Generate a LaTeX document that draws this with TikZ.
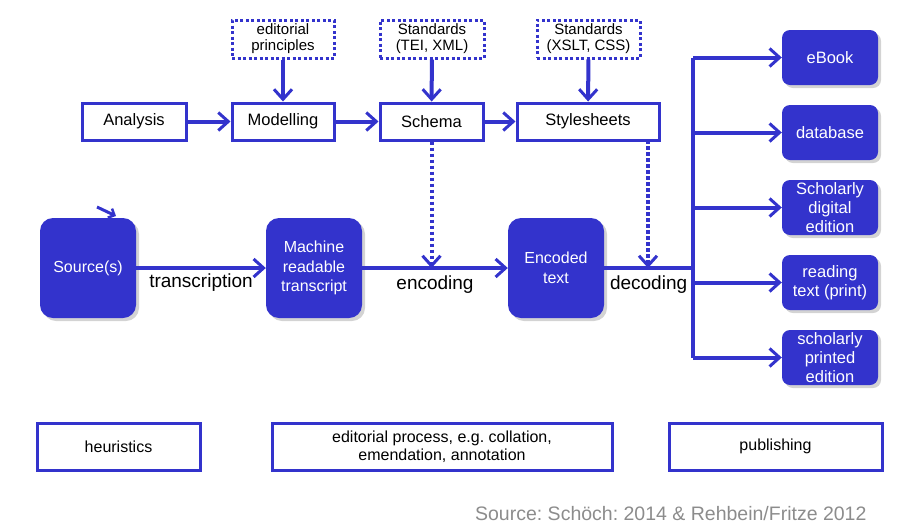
\documentclass[tikz,border=0pt]{standalone}
\usepackage{fontspec}
\setmainfont{Liberation Sans}
\usetikzlibrary{arrows.meta,shadows}
\definecolor{edblue}{RGB}{51,51,204}
\definecolor{notegray}{RGB}{140,140,140}
\frenchspacing
\tikzset{
  stepbox/.style={draw=edblue,line width=3pt,fill=white,inner sep=0pt,minimum height=37pt,font=\fontsize{16.5}{18}\selectfont},
  normbox/.style={draw=edblue,line width=3pt,dash pattern=on 3pt off 2.5pt,fill=white,inner sep=0pt,minimum height=38pt,align=center,font=\fontsize{15}{16}\selectfont},
  workbox/.style={fill=edblue,text=white,rounded corners=13pt,inner sep=0pt,minimum width=96pt,minimum height=100pt,align=center,font=\fontsize{16}{19.5}\selectfont,drop shadow={shadow xshift=3pt,shadow yshift=-3pt,fill=gray,opacity=0.35}},
  outbox/.style={fill=edblue,text=white,rounded corners=8pt,inner sep=0pt,minimum width=96pt,minimum height=55pt,align=center,font=\fontsize{16.5}{19}\selectfont,drop shadow={shadow xshift=3pt,shadow yshift=-3pt,fill=gray,opacity=0.35}},
  phasebox/.style={draw=edblue,line width=3pt,inner sep=0pt,minimum height=47pt,align=center,font=\fontsize{16}{18}\selectfont},
  flow/.style={edblue,line width=4pt,-{Straight Barb[length=10pt,width=18pt,line width=3pt]}},
  hint/.style={edblue,line width=4pt,dash pattern=on 3.5pt off 2.5pt,-{Straight Barb[length=10pt,width=18pt,line width=3pt,sep=0pt]}},
  wire/.style={edblue,line width=4pt},
  steplabel/.style={text=black,font=\fontsize{19}{21}\selectfont,inner sep=1pt}
}
\begin{document}
\begin{tikzpicture}[x=1pt,y=-1pt]
\useasboundingbox (0,0) rectangle (900,531);
\node[stepbox,minimum width=104pt] (ana) at (134,121.5) {Analysis};
\node[stepbox,minimum width=102pt] (mod) at (283,121.5) {Modelling};
\node[stepbox,minimum width=103pt] (sch) at (431.5,121.5) {Schema};
\node[stepbox,minimum width=142pt] (sty) at (588,121.5) {Stylesheets};
\node[normbox,minimum width=102pt] (prin) at (283,39) {editorial\\principles};
\node[normbox,minimum width=104pt] (tei) at (432,39) {Standards\\(TEI, XML)};
\node[normbox,minimum width=103pt] (xslt) at (588.5,39) {Standards\\(XSLT, CSS)};
\node[workbox] (src) at (88,268) {Source(s)};
\node[workbox] (mrt) at (314,268) {Machine\\readable\\transcript};
\node[workbox] (enc) at (556,268) {Encoded\\text};
\node[outbox] (ebook) at (830,57.5) {eBook};
\node[outbox] (db) at (830,132.5) {database};
\node[outbox] (sde) at (830,207.5) {Scholarly\\digital\\edition};
\node[outbox] (read) at (830,282.5) {reading\\text (print)};
\node[outbox] (spe) at (830,357.5) {scholarly\\printed\\edition};
\node[phasebox,minimum width=163pt] (heu) at (118.5,446.5) {heuristics};
\node[phasebox,minimum width=340pt] (proc) at (442,446.5) {editorial process, e.g. collation,\\emendation, annotation};
\node[phasebox,minimum width=213pt] (pub) at (775.5,446.5) {publishing};
\node[anchor=east,text=notegray,font=\fontsize{19.5}{21}\selectfont] (cite) at (870,514) {Source: Schöch: 2014 \& Rehbein/Fritze 2012};
\coordinate (br) at (693,268);
\coordinate (tap) at (648,140);
\coordinate (strayA) at (97,207);
\coordinate (strayB) at (116,216);
\draw[flow] (ana) -- (mod);
\draw[flow] (mod) -- (sch);
\draw[flow] (sch) -- (sty);
\draw[flow] (prin) -- (mod);
\draw[flow] (tei) -- (sch);
\draw[flow] (xslt) -- (sty);
\draw[flow] (src) -- node[steplabel,below=3pt] {transcription} (mrt);
\draw[flow] (mrt) -- node[steplabel,below=5pt] {encoding} (enc);
\draw[wire] (enc) -- node[steplabel,below=5pt] {decoding} (br);
\draw[hint] (sch) -- (sch |- enc.east);
\draw[hint] (tap) -- (tap |- enc.east);
\draw[wire] (br |- ebook) -- (br |- spe);
\foreach \o in {ebook,db,sde,read,spe}
  \draw[flow] (br |- \o) -- (\o);
\draw[edblue,line width=3pt,-{Straight Barb[length=5pt,width=10pt,line width=2.5pt]}] (strayA) -- (strayB);
\end{tikzpicture}
\end{document}
